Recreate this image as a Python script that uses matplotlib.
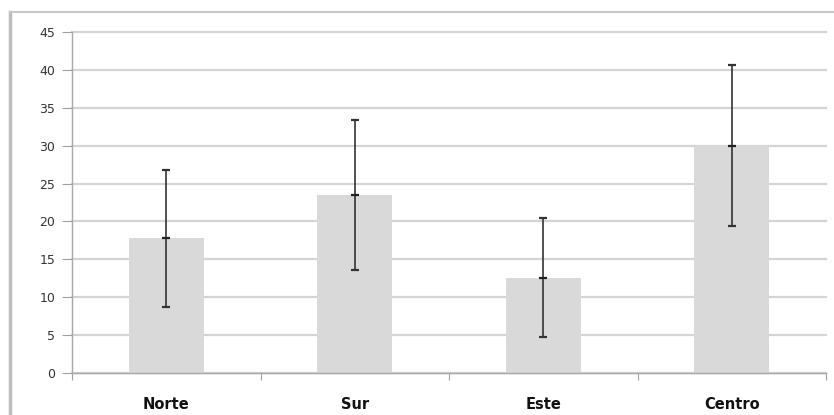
import matplotlib
matplotlib.use("Agg")
import matplotlib.pyplot as plt
from matplotlib.lines import Line2D
import numpy as np

# Data
categories = ["Norte", "Sur", "Este", "Centro"]
means = [17.8, 23.5, 12.5, 30.0]
upper = [26.8, 33.4, 20.4, 40.7]
lower = [8.7, 13.6, 4.7, 19.4]

W, H = 834, 415
fig = plt.figure(figsize=(W / 100, H / 100), dpi=100)
fig.patch.set_facecolor("white")

# axes placement in pixels
left, right, top, bottom = 72, 826, 32, 373
ax = fig.add_axes([left / W, 1 - bottom / H, (right - left) / W, (bottom - top) / H])

x = np.arange(len(categories))
means_a = np.array(means)
yerr = [means_a - np.array(lower), np.array(upper) - means_a]

ax.bar(x, means, width=0.4, color="#d9d9d9", zorder=2)
ax.errorbar(x, means, yerr=yerr, fmt="_", color="#222222", markersize=6,
            markeredgewidth=1.6, ecolor="#333333", elinewidth=1.2,
            capsize=3, capthick=1.6, zorder=3)

ax.set_xlim(-0.5, 3.5)
ax.set_ylim(0, 45)
ax.set_yticks(range(0, 46, 5))
ax.yaxis.grid(True, color="#d4d4d4", linewidth=1.6, zorder=0)
for gl in ax.get_ygridlines():
    gl.set_clip_on(False)
ax.set_axisbelow(True)

# category boundary ticks and centred labels
ax.set_xticks(np.arange(-0.5, 4, 1))
ax.set_xticklabels([])
ax.set_xticks(x, minor=True)
ax.set_xticklabels(categories, minor=True, fontsize=10.5, fontweight="bold", color="#111111")
ax.tick_params(axis="x", which="major", length=5, color="#a0a0a0", direction="out")
ax.tick_params(axis="x", which="minor", length=0, pad=17)
ax.tick_params(axis="y", length=7, color="#a0a0a0", labelsize=9, labelcolor="#333333", pad=5)

for side in ["top", "right"]:
    ax.spines[side].set_visible(False)
for side in ["left", "bottom"]:
    ax.spines[side].set_color("#a8a8a8")
    ax.spines[side].set_linewidth(1.0)

# outer frame lines (left and top)
fig.add_artist(Line2D([10 / W, 10 / W], [0, 1 - 12 / H], transform=fig.transFigure,
                      color="#bdbdbd", linewidth=2.5))
fig.add_artist(Line2D([10 / W, 1], [1 - 12 / H, 1 - 12 / H], transform=fig.transFigure,
                      color="#c8c8c8", linewidth=1.5))

plt.savefig("out.png", dpi=100)
